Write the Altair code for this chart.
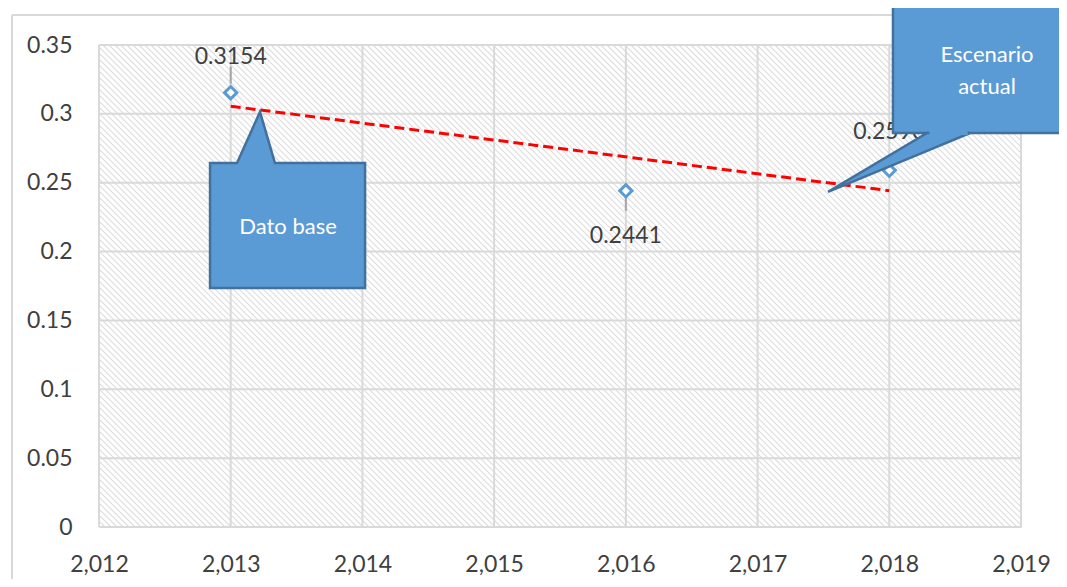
import altair as alt
import pandas as pd
import numpy as np

# ---- data ----
years = [2013, 2016, 2018]
values = [0.3154, 0.2441, 0.2590]
labels = ["0.3154", "0.2441", "0.2590"]
x_ticks = [2012, 2013, 2014, 2015, 2016, 2017, 2018, 2019]
y_ticks = [0, 0.05, 0.1, 0.15, 0.2, 0.25, 0.3, 0.35]

# ---- styling / layout ----
W, H = 922, 482
XMIN, XMAX, YMAX = 2012, 2019, 0.35
FONT = "Lato"
TXT = "#404040"
BLUE = "#5B9BD5"
DARKBLUE = "#41719C"
label_dy = [-36, 45, -38]          # data-label offsets (px)
leader_px = [(-26, -9), (6, 20), None]   # leader line offsets from marker (px)

df = pd.DataFrame({"year": years, "value": values, "label": labels})

xs = alt.Scale(domain=[XMIN, XMAX], nice=False, zero=False)
ys = alt.Scale(domain=[0, YMAX], nice=False, zero=True)

xaxis = alt.Axis(values=x_ticks, format=",d", grid=False, domain=False, ticks=False,
                 labelFlush=False, labelOverlap=False,
                 labelFontSize=23, labelFont=FONT, labelColor=TXT, labelPadding=26, title=None)
yaxis = alt.Axis(values=y_ticks, format="~g", grid=False, domain=False, ticks=False,
                 labelFlush=False, labelOverlap=False,
                 labelFontSize=23, labelFont=FONT, labelColor=TXT, labelPadding=27, title=None)

def px2x(px):
    return XMIN + px / W * (XMAX - XMIN)

def px2y(py):
    return YMAX * (1 - py / H)

# hatch pattern of the plot area (decoration)
sp = 6
cs = np.arange(-H, W + sp, sp)
hatch = pd.DataFrame({
    "x1": [px2x(c) for c in cs], "y1": [px2y(0)] * len(cs),
    "x2": [px2x(c + H) for c in cs], "y2": [px2y(H)] * len(cs),
})
hatch_layer = alt.Chart(hatch).mark_rule(color="#dcdcdc", strokeWidth=1.1, clip=True).encode(
    x=alt.X("x1:Q", scale=xs, axis=xaxis), y=alt.Y("y1:Q", scale=ys, axis=yaxis),
    x2="x2:Q", y2="y2:Q")

vgrid = alt.Chart(pd.DataFrame({"t": x_ticks})).mark_rule(color="#d9d9d9", strokeWidth=2).encode(
    x=alt.X("t:Q", scale=xs))
hgrid = alt.Chart(pd.DataFrame({"t": y_ticks})).mark_rule(color="#d9d9d9", strokeWidth=2).encode(
    y=alt.Y("t:Q", scale=ys))

# chart-area frame (left and top edges visible)
frame_left = alt.Chart().mark_rule(color="#d9d9d9", strokeWidth=2).encode(
    x=alt.value(-87), y=alt.value(-30), y2=alt.value(H + 60))
frame_top = alt.Chart().mark_rule(color="#d9d9d9", strokeWidth=2).encode(
    x=alt.value(-87), x2=alt.value(W + 60), y=alt.value(-30))

trend = alt.Chart(df).transform_regression("year", "value").mark_line(
    color="#FF0000", strokeWidth=3, strokeDash=[10, 5]).encode(
    x=alt.X("year:Q", scale=xs), y=alt.Y("value:Q", scale=ys))

# leader lines
leaders = []
for yr, v, lp in zip(years, values, leader_px):
    if lp is None:
        continue
    d = pd.DataFrame({"year": [yr], "a": [v - lp[0] * YMAX / H], "b": [v - lp[1] * YMAX / H]})
    leaders.append(alt.Chart(d).mark_rule(color="#a6a6a6", strokeWidth=2).encode(
        x=alt.X("year:Q", scale=xs), y=alt.Y("a:Q", scale=ys), y2="b:Q"))

points = alt.Chart(df).mark_point(shape="diamond", size=150, filled=True, fill="white",
                                  stroke=BLUE, strokeWidth=3, opacity=1).encode(
    x=alt.X("year:Q", scale=xs), y=alt.Y("value:Q", scale=ys))

texts = []
for yr, dy in zip(years, label_dy):
    texts.append(alt.Chart(df).transform_filter(alt.datum.year == yr).mark_text(
        dy=dy, fontSize=23, font=FONT, color=TXT).encode(
        x=alt.X("year:Q", scale=xs), y=alt.Y("value:Q", scale=ys), text="label:N"))

# callout "Dato base" (box with upward pointer)
c1 = pd.DataFrame({
    "x": [2012.843, 2013.048, 2013.222, 2013.336, 2014.020],
    "y": [0.2643, 0.2643, 0.3014, 0.2643, 0.2643],
    "y2": [0.1736] * 5,
})
call1 = alt.Chart(c1).mark_area(fill=BLUE, stroke=DARKBLUE, strokeWidth=2.5, opacity=1,
                                 strokeJoin="miter").encode(
    x=alt.X("x:Q", scale=xs), y=alt.Y("y:Q", scale=ys), y2="y2:Q")
call1_txt = alt.Chart(pd.DataFrame({"x": [2013.435], "y": [0.2178], "t": ["Dato base"]})).mark_text(
    fontSize=22, font=FONT, color="white").encode(
    x=alt.X("x:Q", scale=xs), y=alt.Y("y:Q", scale=ys), text="t:N")

# callout "Escenario actual": box + pointer to lower-left + cover of the joint
box2 = pd.DataFrame({"x": [2018.028], "x2": [2019.6], "y": [0.3783], "y2": [0.2861]})
call2_box = alt.Chart(box2).mark_rect(fill=BLUE, stroke=DARKBLUE, strokeWidth=2.5, opacity=1).encode(
    x=alt.X("x:Q", scale=xs), x2="x2:Q", y=alt.Y("y:Q", scale=ys), y2="y2:Q")
ptr2 = pd.DataFrame({
    "x": [2017.535, 2018.287, 2018.613],
    "y": [0.2433, 0.2861, 0.2861],
    "y2": [0.2433, 0.2731, 0.2861],
})
call2_ptr = alt.Chart(ptr2).mark_area(fill=BLUE, stroke=DARKBLUE, strokeWidth=2.5, opacity=1,
                                       strokeJoin="miter").encode(
    x=alt.X("x:Q", scale=xs), y=alt.Y("y:Q", scale=ys), y2="y2:Q")
cover2 = alt.Chart(pd.DataFrame({"x": [2018.305], "x2": [2018.595], "y": [0.2861]})).mark_rule(
    color=BLUE, strokeWidth=4).encode(
    x=alt.X("x:Q", scale=xs), x2="x2:Q", y=alt.Y("y:Q", scale=ys))
call2_txt = alt.Chart(pd.DataFrame({"x": [2018.742], "y": [0.3427], "t": ["Escenario\nactual"]})).mark_text(
    fontSize=22, font=FONT, color="white", lineBreak="\n", lineHeight=32).encode(
    x=alt.X("x:Q", scale=xs), y=alt.Y("y:Q", scale=ys), text="t:N")

chart = alt.layer(
    hatch_layer, vgrid, hgrid, frame_left, frame_top, trend, *leaders, points, *texts,
    call1, call1_txt, call2_box, call2_ptr, cover2, call2_txt
).properties(
    width=W, height=H,
    autosize=alt.AutoSizeParams(type="none"),
    padding={"left": 91, "top": 37, "right": 38, "bottom": 52},
).configure_view(stroke=None, fill="white").configure(background="white")

chart.save("out.html", embed_options={"renderer": "svg", "actions": False})
